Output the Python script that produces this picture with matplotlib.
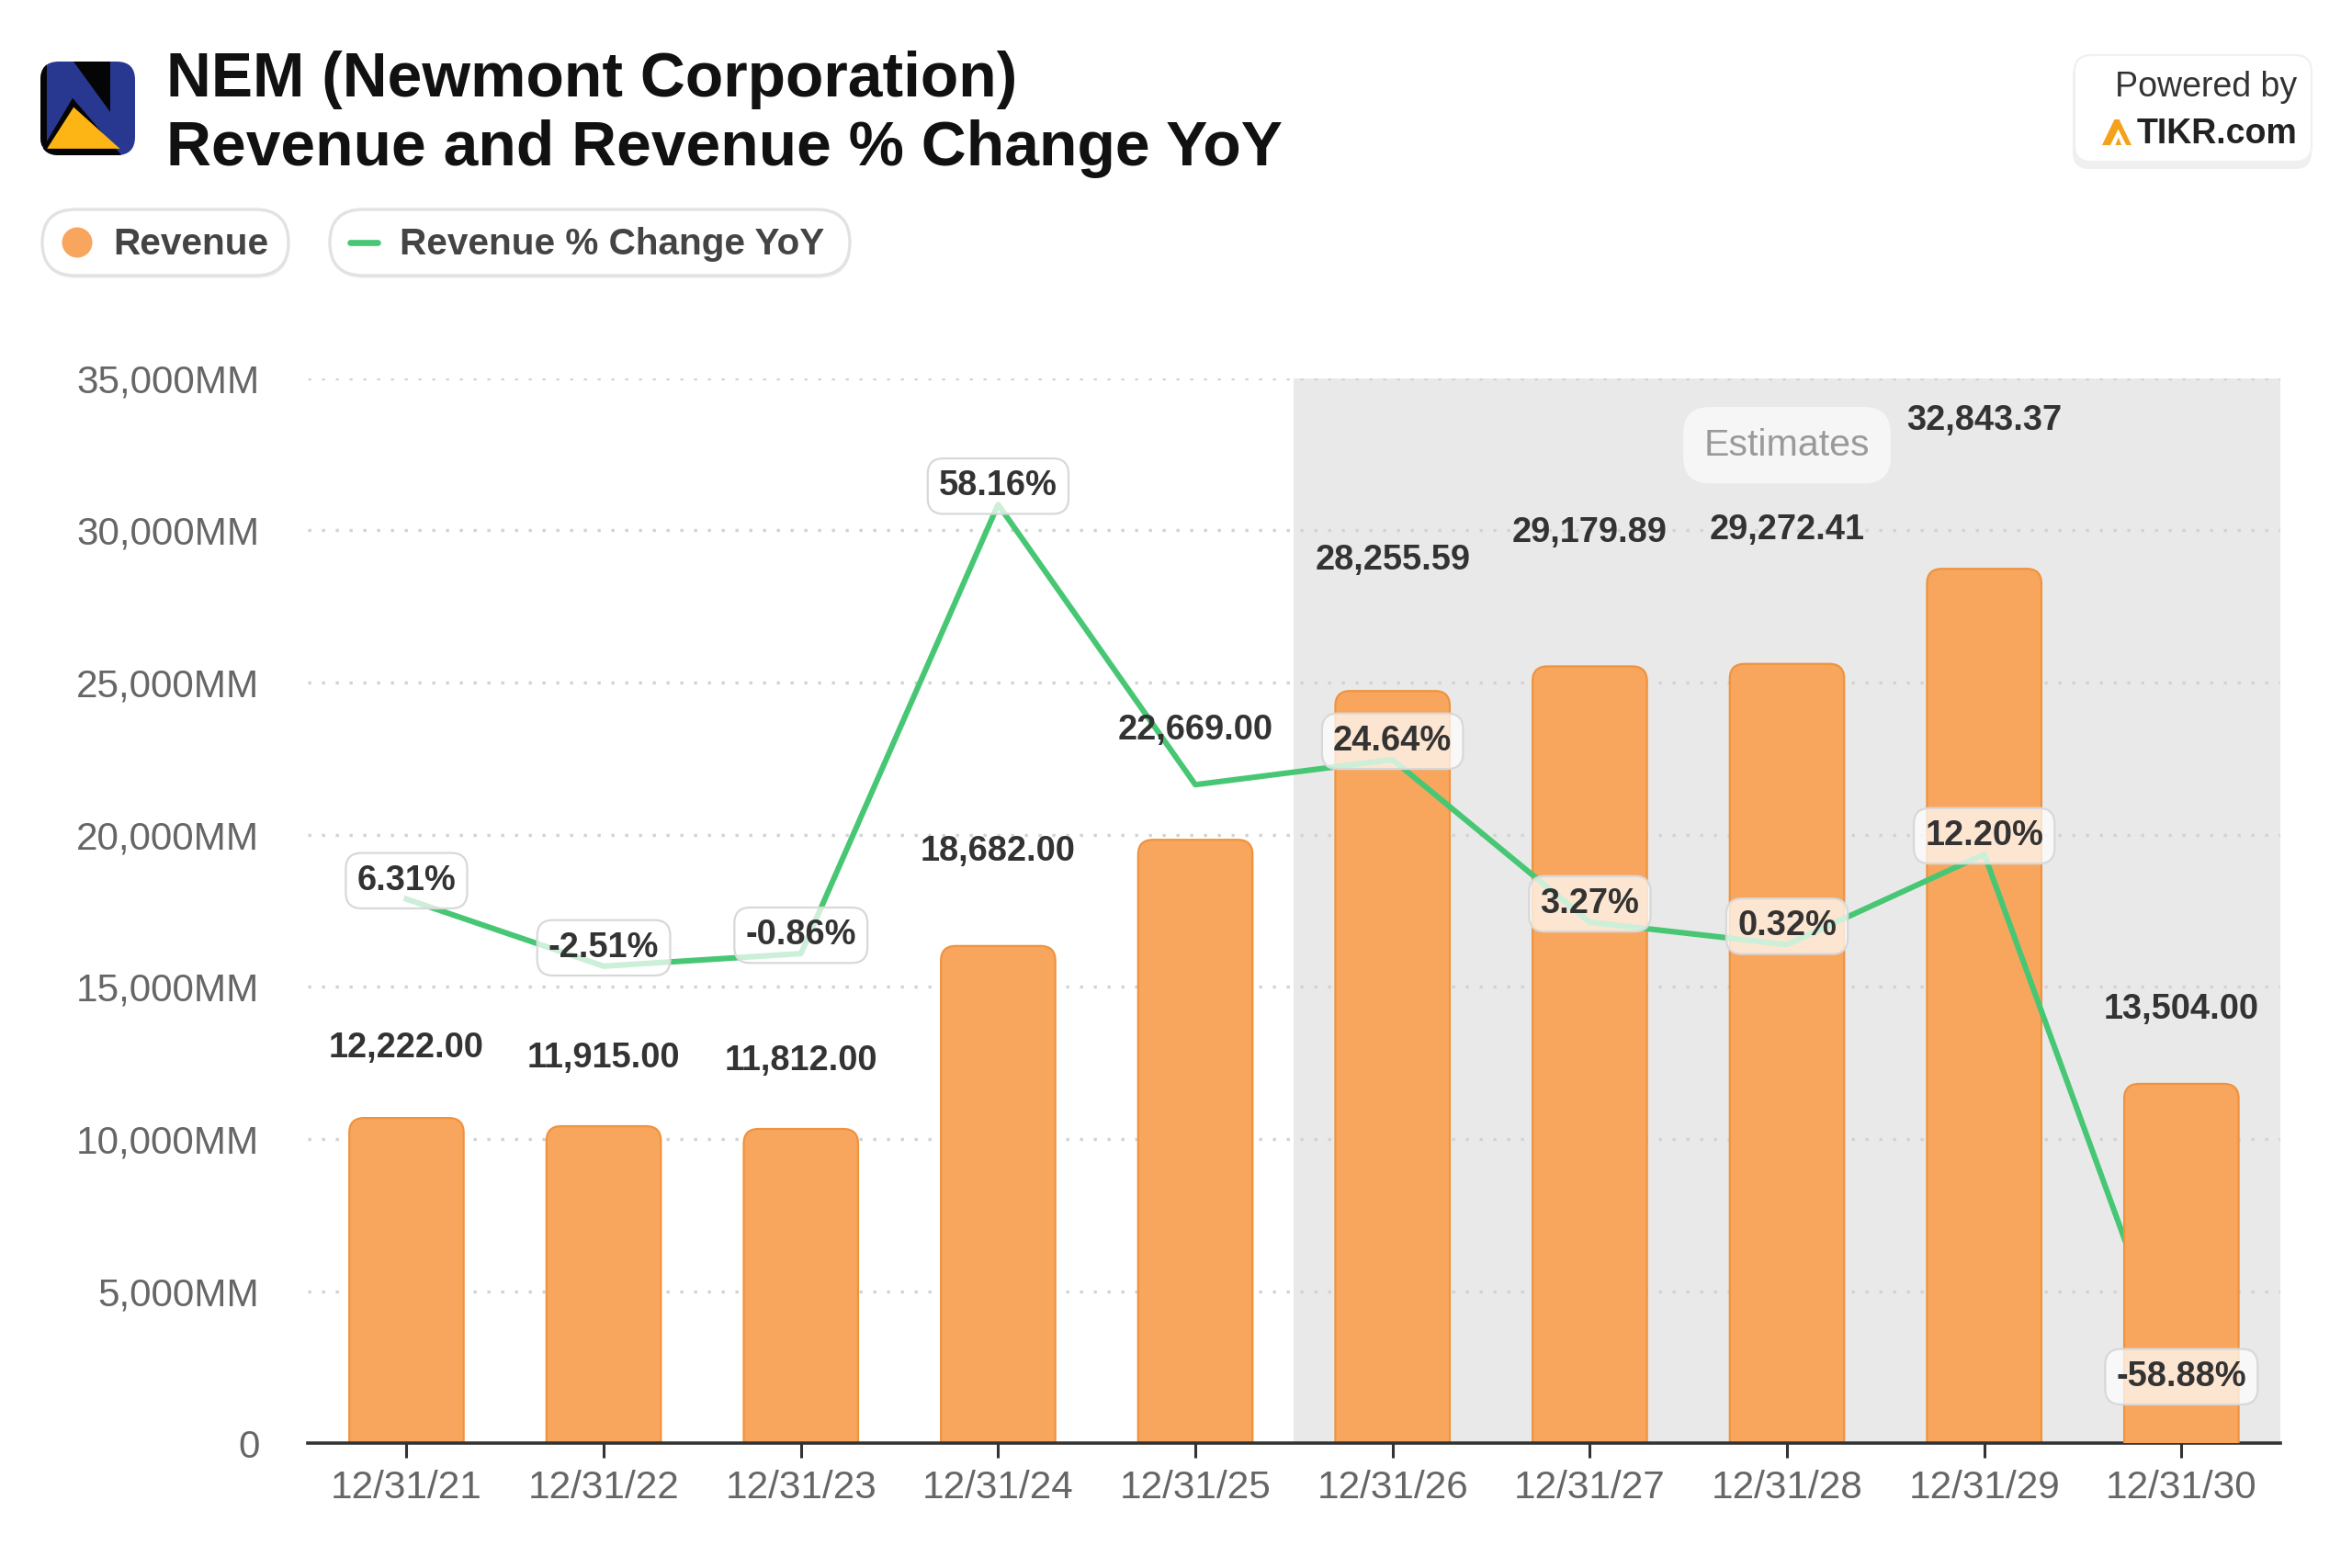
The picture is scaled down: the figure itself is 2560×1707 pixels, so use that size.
import matplotlib.pyplot as plt
from matplotlib.patches import FancyBboxPatch, Polygon, Circle
from matplotlib.lines import Line2D
from matplotlib.ticker import FuncFormatter, MultipleLocator

plt.rcParams['font.family'] = ['Liberation Sans', 'DejaVu Sans']

# data
periods = ['12/31/21', '12/31/22', '12/31/23', '12/31/24', '12/31/25',
           '12/31/26', '12/31/27', '12/31/28', '12/31/29', '12/31/30']
revenue = [12222.00, 11915.00, 11812.00, 18682.00, 22669.00,
           28255.59, 29179.89, 29272.41, 32843.37, 13504.00]
revenue_yoy = [6.31, -2.51, -0.86, 58.16, 21.34, 24.64, 3.27, 0.32, 12.20, -58.88]
yoy_label_shown = [True, True, True, True, False, True, True, True, True, True]
first_estimate = 5

BAR = '#F8A65E'
BAR_EDGE = '#EE933F'
LINE = '#47C774'
TEXT = '#333333'

W, H = 2560, 1707
fig = plt.figure(figsize=(W / 200, H / 200), dpi=200)
pos = [0.1309, 0.0794, 0.8385, 0.6794]
ax = fig.add_axes(pos)
ax_bar = ax.twinx()
ax_pct = ax.twinx()

n = len(periods)
xs = list(range(n))
ax.set_xlim(-0.5, n - 0.5)
ax.set_ylim(0, 35000)
ax_bar.set_ylim(0, 40000)
ax_pct.set_ylim(-65.24, 74.76)

# background: estimates band + dotted grid
ax.axvspan(first_estimate - 0.5, n - 0.5, color='#e9e9e9', lw=0, zorder=0)
ax.set_axisbelow(True)
ax.yaxis.set_major_locator(MultipleLocator(5000))
ax.yaxis.grid(True, linestyle=(0, (1, 3.5)), linewidth=1.2, color='#d2d2d2')
ax.yaxis.set_major_formatter(FuncFormatter(lambda v, p: '0' if v == 0 else f'{v:,.0f}MM'))
ax.set_xticks(xs)
ax.set_xticklabels(periods)
ax.tick_params(axis='y', length=0, pad=19, labelsize=15.2, labelcolor='#666666')
ax.tick_params(axis='x', length=5.7, width=1.1, color='#333333', pad=4.5,
               labelsize=15.2, labelcolor='#666666')
for s in ax.spines.values():
    s.set_visible(False)
for a in (ax_bar, ax_pct):
    a.set_yticks([])
    for s in a.spines.values():
        s.set_visible(False)
ax_pct.spines['bottom'].set_visible(True)
ax_pct.spines['bottom'].set_color('#333333')
ax_pct.spines['bottom'].set_linewidth(1.3)

# bars with rounded tops
bw = 0.58
w_px = pos[2] * W
h_px = pos[3] * H
aspect = (40000 / h_px) / (n / w_px)
for i, v in enumerate(revenue):
    # the last bar sits above the line, as in the source chart
    target = ax_pct if i == n - 1 else ax_bar
    bar = FancyBboxPatch((i - bw / 2, -1500), bw, v + 1500,
                         boxstyle='round,pad=0,rounding_size=0.075',
                         mutation_aspect=aspect, facecolor=BAR, edgecolor=BAR_EDGE,
                         linewidth=0.8, transform=ax_bar.transData,
                         zorder=4 if i == n - 1 else 2)
    target.add_patch(bar)

# yoy line
ax_pct.plot(xs, revenue_yoy, color=LINE, linewidth=2.2, zorder=3)

# value labels
for i, v in enumerate(revenue):
    ax_pct.annotate(f'{v:,.2f}', xy=(i, v), xycoords=ax.transData, xytext=(0, 5.4),
                    textcoords='offset points', ha='center', va='baseline',
                    fontsize=13.7, fontweight='bold', color=TEXT, zorder=6)
for i, p in enumerate(revenue_yoy):
    if not yoy_label_shown[i]:
        continue
    ax_pct.annotate(f'{p:.2f}%', xy=(i, p), xytext=(0, 3.6), textcoords='offset points',
                    ha='center', va='baseline', fontsize=13.7, fontweight='bold',
                    color=TEXT, zorder=7,
                    bbox=dict(boxstyle='round,pad=0.32,rounding_size=0.45',
                              fc=(1, 1, 1, 0.72), ec='#d8d8d8', lw=0.8))

ax_pct.annotate('Estimates', xy=(7.0, 32800), xycoords=ax.transData, ha='center',
                va='center', fontsize=14.8, color='#9a9a9a', zorder=6,
                bbox=dict(boxstyle='round,pad=0.55,rounding_size=0.7',
                          fc='#f6f6f6', ec='none'))

# header overlay in pixel coordinates
hdr = fig.add_axes([0, 0, 1, 1])
hdr.set_xlim(0, W)
hdr.set_ylim(H, 0)
hdr.axis('off')
hdr.set_zorder(10)

# logo
lx, ly, lw_, lh = 44, 67, 103, 102
logo = FancyBboxPatch((lx, ly), lw_, lh, boxstyle='round,pad=0,rounding_size=20',
                      fc='#283891', ec='none')
hdr.add_patch(logo)


def logo_poly(pts, color):
    pg = Polygon([(lx + u * lw_, ly + lh - v * lh) for u, v in pts], closed=True,
                 fc=color, ec='none')
    hdr.add_patch(pg)
    pg.set_clip_path(logo)


logo_poly([(0, 0.1), (0.065, 0.1), (0.065, 1), (0, 1)], '#050505')
logo_poly([(0.35, 1.0), (0.734, 1.0), (0.734, 0.464)], '#050505')
logo_poly([(0.34, 0.61), (-0.02, 0.0), (0.9, -0.05)], '#050505')
logo_poly([(0.351, 0.513), (0.07, 0.07), (0.84, 0.07)], '#FDB515')

hdr.text(181, 105, 'NEM (Newmont Corporation)', fontsize=24.4, fontweight='bold',
         color='#111111', va='baseline')
hdr.text(181, 180, 'Revenue and Revenue % Change YoY', fontsize=24.4, fontweight='bold',
         color='#111111', va='baseline')

# legend pills
for x0, wd in ((46, 268), (359, 566)):
    hdr.add_patch(FancyBboxPatch((x0 + 1, 231), wd, 72,
                                 boxstyle='round,pad=0,rounding_size=36',
                                 fc='#f2f2f2', ec='none'))
    hdr.add_patch(FancyBboxPatch((x0, 228), wd, 72,
                                 boxstyle='round,pad=0,rounding_size=36',
                                 fc='white', ec='#e2e2e2', lw=1.2))
hdr.add_patch(Circle((84, 264), 16.5, fc=BAR, ec='none'))
hdr.text(123, 277, 'Revenue', fontsize=14.6, fontweight='bold', color='#444444',
         va='baseline')
hdr.add_line(Line2D([381, 411], [264, 264], color=LINE, lw=2.4, solid_capstyle='round'))
hdr.text(435, 277, 'Revenue % Change YoY', fontsize=14.6, fontweight='bold',
         color='#444444', va='baseline')

# powered by box
hdr.add_patch(FancyBboxPatch((2256, 64), 260, 120, boxstyle='round,pad=0,rounding_size=18',
                             fc='#ececec', ec='none', alpha=0.8))
hdr.add_patch(FancyBboxPatch((2258, 60), 258, 116, boxstyle='round,pad=0,rounding_size=18',
                             fc='white', ec='#f0f0f0', lw=0.8))
hdr.text(2500, 105, 'Powered by', fontsize=13.5, color='#333333', ha='right',
         va='baseline')
hdr.text(2500, 156, 'TIKR.com', fontsize=13.5, fontweight='bold', color='#222222',
         ha='right', va='baseline')
tx, ty, tw, th = 2288, 130, 32, 28


def tikr_poly(pts, color):
    hdr.add_patch(Polygon([(tx + u * tw, ty + th - v * th) for u, v in pts],
                          closed=True, fc=color, ec='none'))


tikr_poly([(0.0, 0.0), (0.42, 1.0), (0.58, 1.0), (1.0, 0.0)], '#F5A21B')
tikr_poly([(0.28, 0.0), (0.55, 0.62), (0.82, 0.0)], 'white')
tikr_poly([(0.45, 0.0), (0.56, 0.3), (0.66, 0.0)], '#F5A21B')

fig.savefig('out.png', dpi=200)
